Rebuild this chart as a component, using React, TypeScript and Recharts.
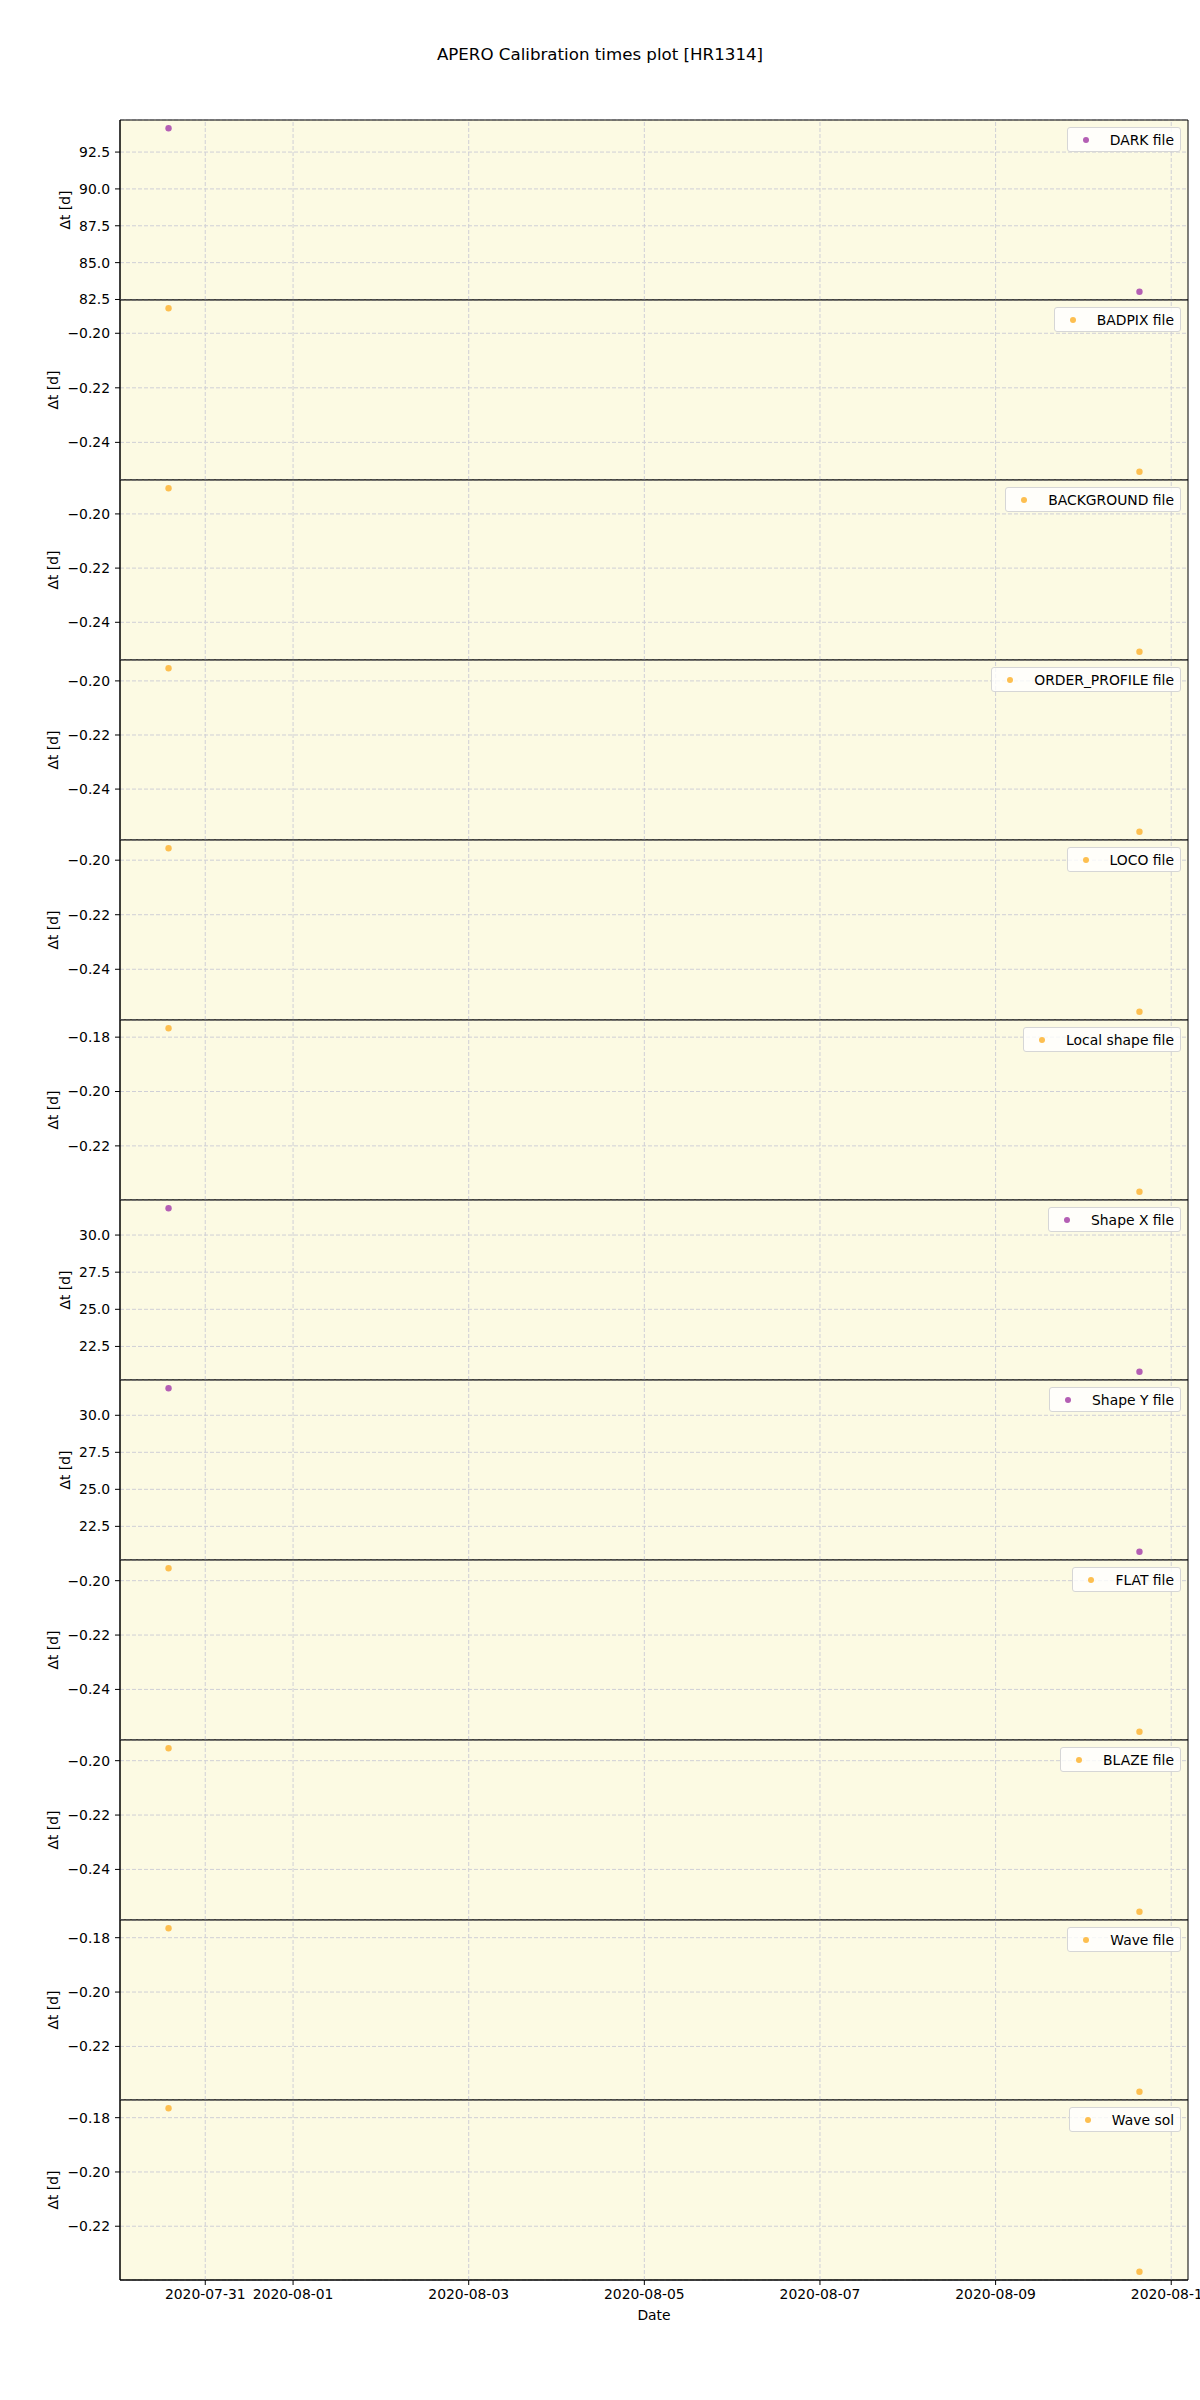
import React from 'react';
import { ScatterChart, Scatter, XAxis, YAxis, CartesianGrid, ReferenceArea, ReferenceLine } from 'recharts';

const TITLE = 'APERO Calibration times plot [HR1314]';
const X_LABEL = 'Date';
const Y_LABEL = 'Δt [d]';

// observation times (UTC)
const obsTimes = [Date.UTC(2020, 6, 30, 13, 58), Date.UTC(2020, 7, 10, 15, 19)];
const xTickDates = ['2020-07-31', '2020-08-01', '2020-08-03', '2020-08-05', '2020-08-07', '2020-08-09', '2020-08-11'];

const panelNames = [
  'DARK file', 'BADPIX file', 'BACKGROUND file', 'ORDER_PROFILE file', 'LOCO file', 'Local shape file',
  'Shape X file', 'Shape Y file', 'FLAT file', 'BLAZE file', 'Wave file', 'Wave sol',
];

const darkValues = [94.12, 83.02];
const badpixValues = [-0.1908, -0.2508];
const backgroundValues = [-0.1905, -0.2509];
const orderProfileValues = [-0.1953, -0.2558];
const locoValues = [-0.1956, -0.2556];
const localShapeValues = [-0.1767, -0.2369];
const shapeXValues = [31.81, 20.79];
const shapeYValues = [31.83, 20.78];
const flatValues = [-0.1954, -0.2556];
const blazeValues = [-0.1954, -0.2556];
const waveFileValues = [-0.1765, -0.2367];
const waveSolValues = [-0.1765, -0.2368];

const darkTicks = [82.5, 85, 87.5, 90, 92.5];
const smallTicksA = [-0.24, -0.22, -0.2];
const smallTicksB = [-0.22, -0.2, -0.18];
const shapeTicks = [22.5, 25, 27.5, 30];

const PURPLE = '#b45fb4';
const ORANGE = '#fdbf50';
const BG = '#fcfae3';
const GRID = '#cfcfd6';
const FONT = '"DejaVu Sans", sans-serif';

const panelValues = [
  darkValues, badpixValues, backgroundValues, orderProfileValues, locoValues, localShapeValues,
  shapeXValues, shapeYValues, flatValues, blazeValues, waveFileValues, waveSolValues,
];
const panelTicks = [
  darkTicks, smallTicksA, smallTicksA, smallTicksA, smallTicksA, smallTicksB,
  shapeTicks, shapeTicks, smallTicksA, smallTicksA, smallTicksB, smallTicksB,
];
const panelColors = [
  PURPLE, ORANGE, ORANGE, ORANGE, ORANGE, ORANGE,
  PURPLE, PURPLE, ORANGE, ORANGE, ORANGE, ORANGE,
];
const panelDecimals = [1, 2, 2, 2, 2, 2, 1, 1, 2, 2, 2, 2];

const xTicks = xTickDates.map((d) => Date.parse(d + 'T00:00:00Z'));
const xMin = Math.min(...obsTimes);
const xMax = Math.max(...obsTimes);
const xPad = (xMax - xMin) * 0.05;
const xDomain: [number, number] = [xMin - xPad, xMax + xPad];

const PANEL_TOP = 120;
const PANEL_H = 180;
const PAD = 10;

const fmtY = (dec: number) => (v: number) => (v < 0 ? '\u2212' : '') + Math.abs(v).toFixed(dec);
const fmtX = (v: number) => new Date(v).toISOString().slice(0, 10);

const Dot = (color: string) => (props: any) => (
  <circle cx={props.cx} cy={props.cy} r={3.2} fill={color} />
);

function Panel({ index }: { index: number }) {
  const values = panelValues[index];
  const last = index === panelNames.length - 1;
  const yMin = Math.min(...values);
  const yMax = Math.max(...values);
  const yPad = (yMax - yMin) * 0.05;
  const yDomain: [number, number] = [yMin - yPad, yMax + yPad];
  const data = obsTimes.map((t, i) => ({ t, v: values[i] }));
  const xAxisH = 55;
  const h = last ? PAD + PANEL_H + xAxisH : PANEL_H + 2 * PAD;
  const top = PANEL_TOP + PANEL_H * index - PAD;
  return (
    <div style={{ position: 'absolute', left: 0, top, width: 1200, height: h }}>
      <ScatterChart width={1200} height={h} margin={{ top: PAD, right: 12, bottom: last ? 0 : PAD, left: 0 }}>
        <CartesianGrid stroke={GRID} strokeDasharray="4 2" fill={BG} fillOpacity={1} vertical={false} />
        <XAxis
          type="number"
          dataKey="t"
          domain={xDomain}
          ticks={xTicks}
          allowDataOverflow
          tickFormatter={fmtX}
          height={last ? xAxisH : 0}
          tick={last ? { fill: '#000', fontSize: 13.9, fontFamily: FONT } : false}
          tickLine={last ? { stroke: '#000' } : false}
          axisLine={last ? { stroke: '#000' } : false}
          tickSize={5}
          tickMargin={4}
          interval={0}
        />
        <YAxis
          type="number"
          dataKey="v"
          domain={yDomain}
          ticks={panelTicks[index]}
          allowDataOverflow
          width={120}
          tickFormatter={fmtY(panelDecimals[index])}
          tick={{ fill: '#000', fontSize: 13.9, fontFamily: FONT }}
          tickLine={{ stroke: '#000' }}
          axisLine={{ stroke: '#000' }}
          tickSize={5}
          tickMargin={5}
          interval={0}
        />
        {xTicks.map((t) => (
          <ReferenceLine key={t} x={t} stroke={GRID} strokeDasharray="4 2" strokeWidth={1} />
        ))}
        <ReferenceArea
          x1={xDomain[0]}
          x2={xDomain[1]}
          y1={yDomain[0]}
          y2={yDomain[1]}
          fill="none"
          stroke="#000"
          strokeWidth={1}
        />
        <Scatter data={data} isAnimationActive={false} shape={Dot(panelColors[index])} />
      </ScatterChart>
    </div>
  );
}

function LegendBox({ index }: { index: number }) {
  const top = PANEL_TOP + PANEL_H * index + 7;
  return (
    <div
      style={{
        position: 'absolute',
        right: 19,
        top,
        height: 25,
        boxSizing: 'border-box',
        display: 'flex',
        alignItems: 'center',
        border: '1px solid #d6d6d6',
        borderRadius: 3,
        background: 'rgba(255,255,255,0.8)',
        fontFamily: FONT,
        fontSize: 13.9,
        color: '#000',
        paddingRight: 6,
        whiteSpace: 'nowrap',
      }}
    >
      <span
        style={{
          display: 'inline-block',
          width: 6,
          height: 6,
          borderRadius: '50%',
          background: panelColors[index],
          marginLeft: 15,
        }}
      />
      <span style={{ marginLeft: 21 }}>{panelNames[index]}</span>
    </div>
  );
}

function YLabel({ index }: { index: number }) {
  const big = panelDecimals[index] === 1;
  const cx = big ? 65 : 52.5;
  const cy = PANEL_TOP + PANEL_H * index + PANEL_H / 2;
  return (
    <div
      style={{
        position: 'absolute',
        left: cx - 40,
        top: cy - 10,
        width: 80,
        height: 20,
        lineHeight: '20px',
        textAlign: 'center',
        transform: 'rotate(-90deg)',
        fontFamily: FONT,
        fontSize: 13.9,
        color: '#000',
      }}
    >
      {Y_LABEL}
    </div>
  );
}

export default function App() {
  return (
    <div style={{ position: 'absolute', left: 0, top: 0, width: 1200, height: 2400, background: '#fff', overflow: 'hidden' }}>
      <div
        style={{
          position: 'absolute',
          left: 0,
          width: 1200,
          top: 44,
          height: 22,
          lineHeight: '22px',
          textAlign: 'center',
          fontFamily: FONT,
          fontSize: 16.67,
          color: '#000',
        }}
      >
        {TITLE}
      </div>
      {panelNames.map((_, i) => (
        <Panel key={'p' + i} index={i} />
      ))}
      {panelNames.map((_, i) => (
        <LegendBox key={'l' + i} index={i} />
      ))}
      {panelNames.map((_, i) => (
        <YLabel key={'y' + i} index={i} />
      ))}
      <div
        style={{
          position: 'absolute',
          left: 654 - 50,
          width: 100,
          top: 2305,
          height: 20,
          lineHeight: '20px',
          textAlign: 'center',
          fontFamily: FONT,
          fontSize: 13.9,
          color: '#000',
        }}
      >
        {X_LABEL}
      </div>
    </div>
  );
}
